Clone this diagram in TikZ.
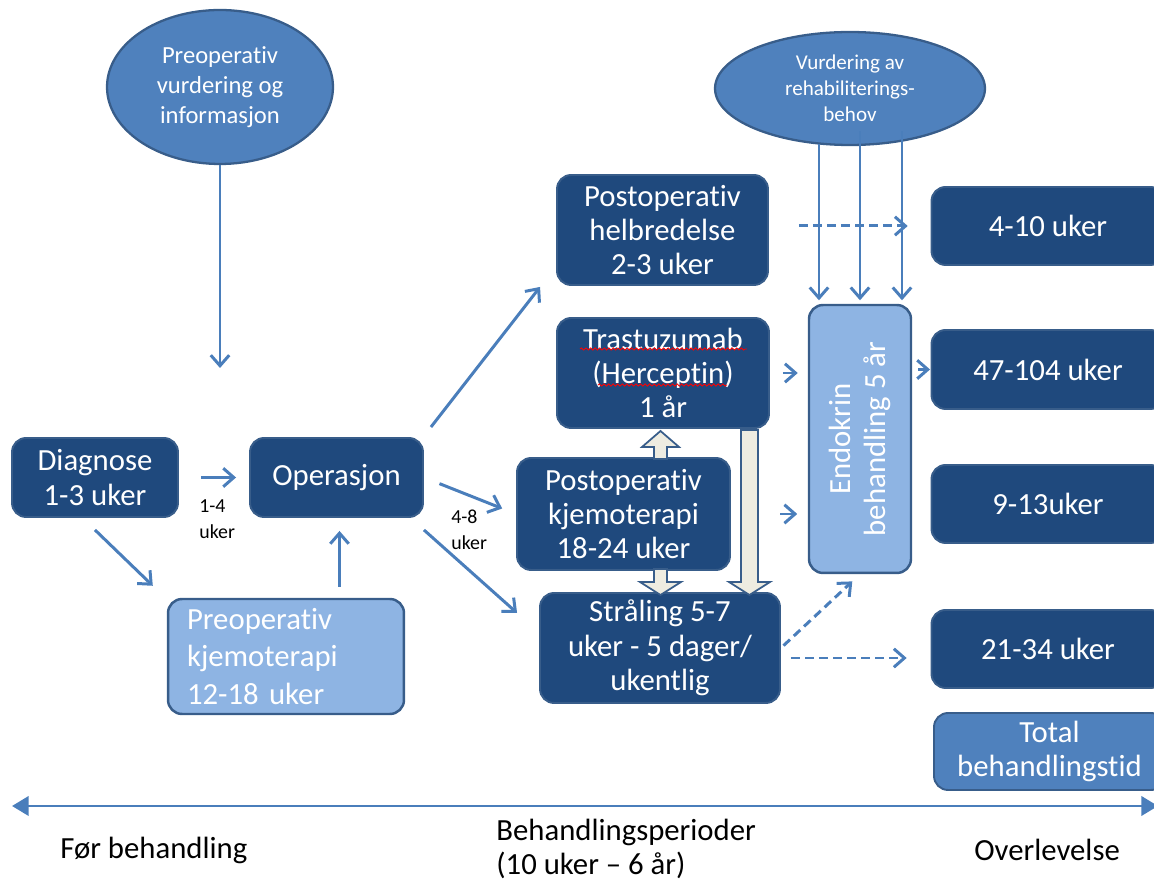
\documentclass[tikz,border=0pt]{standalone}
\usepackage{fontspec}
\setmainfont{Carlito}[Ligatures=NoCommon]
\usetikzlibrary{arrows.meta,calc,shapes.geometric,decorations.pathmorphing}
\definecolor{darkfill}{HTML}{1F497D}
\definecolor{boxedge}{HTML}{385D8A}
\definecolor{lightfill}{HTML}{8EB4E3}
\definecolor{midblue}{HTML}{4F81BD}
\definecolor{arrowblue}{HTML}{4A7EBB}
\definecolor{blkfill}{HTML}{EEECE1}
\newcommand\myBoxFont{\fontsize{17.5}{19.5}\selectfont}
\newcommand\myPreFont{\fontsize{17.5}{21.5}\selectfont}
\newcommand\myEllA{\fontsize{14}{17}\selectfont}
\newcommand\myEllB{\fontsize{12}{14.7}\selectfont}
\newcommand\mySmall{\fontsize{11.3}{14.7}\selectfont}
\newcommand\myAxis{\fontsize{17.5}{19.8}\selectfont}
\begin{document}
\begin{tikzpicture}[x=0.02cm,y=-0.02cm,
  darkbox/.style={rectangle, rounded corners=8pt, fill=darkfill, draw=boxedge, line width=1.1pt, text=white, font=\myBoxFont, align=center, inner sep=2pt},
  lightbox/.style={rectangle, rounded corners=8pt, fill=lightfill, draw=boxedge, line width=1.4pt, text=white, inner sep=2pt},
  midbox/.style={rectangle, rounded corners=8pt, fill=midblue, draw=boxedge, line width=1.1pt, text=white, font=\myBoxFont, align=center, inner sep=2pt},
  ellnode/.style={ellipse, fill=midblue, draw=boxedge, line width=1.3pt, text=white, align=center, inner sep=0pt},
  conn/.style={draw=arrowblue, line width=1.7pt, -{Straight Barb[length=6pt,width=10.5pt]}},
  dconn/.style={conn, dash pattern=on 5pt off 3pt},
  blk/.style={fill=blkfill, draw=boxedge, line width=1pt, line join=miter},
  lbl/.style={text=black, align=left, inner sep=0pt, anchor=west},
  wavy/.style={draw=red, line width=0.5pt, decorate, decoration={snake, amplitude=0.6pt, segment length=2.6pt}}
]
\useasboundingbox (0,0) rectangle (1154,884);
\clip (0,0) rectangle (1154,884);

% ellipses
\node[ellnode, minimum width=4.52cm, minimum height=3.08cm, font=\myEllA] (ell1) at (220,87) {Preoperativ\\vurdering og\\informasjon};
\node[ellnode, minimum width=5.4cm, minimum height=2.26cm, font=\myEllB] (ell2) at (850,88.5) {Vurdering av\\rehabiliterings-\\behov};

% boxes
\node[darkbox, minimum width=3.32cm, minimum height=1.58cm] (diag) at (95,477.5) {Diagnose\\1-3 uker};
\node[darkbox, minimum width=3.46cm, minimum height=1.58cm] (oper) at (336.5,477.5) {Operasjon};
\node[lightbox, minimum width=4.72cm, minimum height=2.3cm, text width=3.96cm, align=left, font=\myPreFont] (preop) at (286,656.5) {Preoperativ\\kjemoterapi\\12-18 uker};
\node[darkbox, minimum width=4.22cm, minimum height=2.2cm] (helb) at (662.5,230) {Postoperativ\\helbredelse\\2-3 uker};
\node[darkbox, minimum width=4.24cm, minimum height=2.2cm] (trast) at (663,373) {Trastuzumab\\(Herceptin)\\1 år};
\node[darkbox, minimum width=4.26cm, minimum height=2.24cm] (kjemo) at (623.5,514) {Postoperativ\\kjemoterapi\\18-24 uker};
\node[darkbox, minimum width=4.8cm, minimum height=2.2cm] (stral) at (660,648) {Stråling 5-7\\uker - 5 dager/\\ukentlig};
\node[lightbox, minimum width=2.04cm, minimum height=5.36cm] (endo) at (860,439) {};
\node[rotate=90, text=white, font=\myBoxFont, align=center, inner sep=0pt] (endotxt) at (endo.center) {Endokrin\\behandling 5 år};
\node[darkbox, minimum width=4.66cm, minimum height=1.56cm] (r1) at (1048,226) {4-10 uker};
\node[darkbox, minimum width=4.66cm, minimum height=1.58cm] (r2) at (1048,369.5) {47-104 uker};
\node[darkbox, minimum width=4.66cm, minimum height=1.56cm] (r3) at (1048,504) {9-13uker};
\node[darkbox, minimum width=4.66cm, minimum height=1.56cm] (r4) at (1048,649) {21-34 uker};
\node[midbox, minimum width=4.62cm, minimum height=1.54cm] (total) at (1049.5,751.5) {Total\\behandlingstid};

% spell-check underlines
\draw[wavy] (580,349) -- (747,349);
\draw[wavy] (598,385) -- (727,385);

% block arrows
\draw[blk] (654,459) -- (654,447) -- (642,447) -- (660.5,431) -- (679,447) -- (667,447) -- (667,459) -- cycle;
\draw[blk] (654,569) -- (667,569) -- (667,582) -- (681,582) -- (660.5,595) -- (640,582) -- (654,582) -- cycle;
\draw[blk] (741,430) -- (758,430) -- (758,582) -- (770,582) -- (749.5,595) -- (729,582) -- (741,582) -- cycle;

% connectors
\coordinate (e1end) at (220,368);
\draw[conn] (ell1.south) -- (e1end);
\coordinate (a1) at ($(ell2.south)+(-31,-2)$);
\coordinate (a2) at ($(ell2.south)+(10,-15)$);
\coordinate (a3) at ($(ell2.south)+(52,-15)$);
\draw[conn, shorten >=2pt] (a1) -- (a1 |- endo.north);
\draw[conn, shorten >=2pt] (a2) -- (a2 |- endo.north);
\draw[conn, shorten >=2pt] (a3) -- (a3 |- endo.north);

\draw[conn, shorten <=12.5pt, shorten >=7.4pt] (diag.east) -- (oper.west);
\node[lbl, font=\mySmall] (l14) at (199,519) {1-4\\uker};
\draw[conn] ($(oper.north east)+(7,-10)$) -- ($(helb.south west)+(-16,1)$);
\draw[conn, shorten <=9.5pt, shorten >=8.5pt] (oper.east) -- (kjemo.west);
\node[lbl, font=\mySmall] (l48) at (451,530) {4-8\\uker};
\draw[conn] ($(oper.south east)+(0,12)$) -- ($(stral.west)+(-22,-35)$);
\draw[conn] ($(diag.south)+(0,12)$) -- ($(preop.north west)+(-14,-12)$);
\coordinate (p1) at ($(oper.south)+(3,0)$);
\draw[conn, shorten <=6.2pt, shorten >=7.4pt] (p1 |- preop.north) -- (p1);

\draw[dconn, shorten <=17pt, shorten >=13pt] (helb.east |- r1.west) -- (r1.west);
\draw[conn, shorten <=7.4pt, shorten >=5.7pt] (trast.east) -- (trast.east -| endo.west);
\draw[conn, shorten <=3.4pt, shorten >=0.3pt] (endo.east |- r2.west) -- (r2.west);
\draw[conn, shorten <=28pt, shorten >=6pt] (kjemo.east) -- (kjemo.east -| endo.west);
\draw[dconn, shorten <=2pt, shorten >=6pt] (stral.east) -- (endo.south);
\coordinate (s1) at ($(stral.east)+(0,10)$);
\draw[dconn, shorten <=5.7pt, shorten >=13.6pt] (s1) -- (s1 -| r4.west);

% axis
\coordinate (axl) at (12,806);
\coordinate (axr) at (1158,806);
\draw[draw=arrowblue, line width=1.7pt, {Triangle[length=9.5pt,width=11pt]}-{Triangle[length=9.5pt,width=11pt]}] (axl) -- (axr);
\node[lbl, font=\myAxis] (fb) at (60,850) {Før behandling};
\node[lbl, font=\myAxis] (bp) at (496,849) {Behandlingsperioder\\(10 uker – 6 år)};
\node[lbl, font=\myAxis] (ov) at (974,850) {Overlevelse};
\end{tikzpicture}
\end{document}
